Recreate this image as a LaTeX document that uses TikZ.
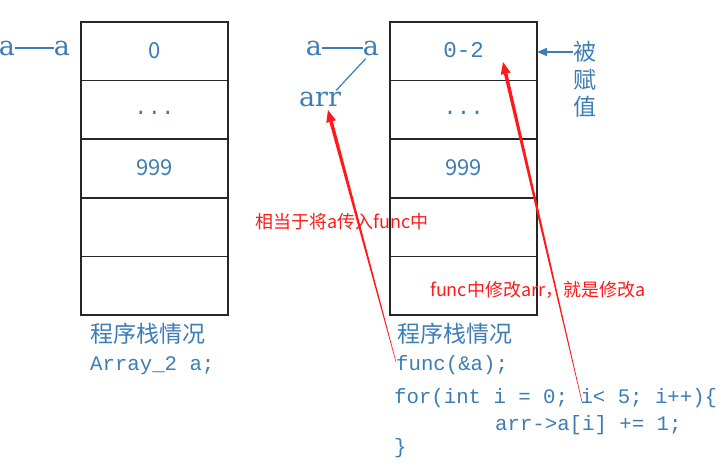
\documentclass[tikz,border=0pt]{standalone}
\usepackage{fontspec}
\usetikzlibrary{calc,arrows.meta}
\newfontfamily\cjk{Noto Sans CJK SC}
\newfontfamily\monof{Liberation Mono}
\newfontfamily\serf{DejaVu Serif}
\definecolor{tblue}{RGB}{59,125,180}
\definecolor{tred}{RGB}{255,25,25}
\begin{document}
\begin{tikzpicture}[x=1pt,y=-1pt,
  cell/.style={draw=black!85, line width=1.5pt, minimum width=147pt, minimum height=58.6pt, inner sep=0pt, outer sep=0pt, text=tblue},
  numtxt/.style={font=\cjk\fontsize{22}{24}\selectfont},
  montxt/.style={font=\monof\fontsize{22.5}{24}\selectfont},
  avar/.style={text=tblue, inner sep=0pt, font=\serf\fontsize{27}{30}\selectfont},
  code/.style={text=tblue, inner sep=0pt, anchor=base west, font=\monof\fontsize{20.7}{24}\selectfont},
  cjkblue/.style={text=tblue, inner sep=0pt, anchor=base west, font=\cjk\fontsize{23}{26}\selectfont},
  vlabel/.style={text=tblue, inner sep=0pt, font=\cjk\fontsize{23}{26}\selectfont},
  redtxt/.style={text=tred, inner sep=0pt, anchor=west, font=\cjk\fontsize{18}{20}\selectfont},
  bluelink/.style={draw=tblue, line width=1.2pt},
  bluearrow/.style={draw=tblue, line width=1.5pt, -{Triangle[length=10pt,width=8pt]}}
]
\useasboundingbox (0,0) rectangle (719,465);

% left stack
\node[cell, numtxt] (L0) at (154.5,51.3) {\raisebox{2pt}{0}};
\node[cell, montxt] (L1) at (154.5,109.9) {\raisebox{-9pt}{...}};
\node[cell, numtxt] (L2) at (154.5,168.5) {\raisebox{1pt}{999}};
\node[cell] (L3) at (154.5,227.1) {};
\node[cell] (L4) at (154.5,285.7) {};

% right stack
\node[cell, montxt] (R0) at (463.5,51.3) {\raisebox{2pt}{0-2}};
\node[cell, montxt] (R1) at (463.5,109.9) {\raisebox{-9pt}{...}};
\node[cell, numtxt] (R2) at (463.5,168.5) {\raisebox{1pt}{999}};
\node[cell] (R3) at (463.5,227.1) {};
\node[cell] (R4) at (463.5,285.7) {};

% a -- a (left)
\node[avar] (la1) at (7,48) {a};
\node[avar] (la2) at (62,48) {a};
\draw[bluelink] (la1.east) -- (la2.west);

% a -- a, arr (right)
\node[avar] (ra1) at (314,48) {a};
\node[avar] (ra2) at (371,48) {a};
\draw[bluelink] (ra1.east) -- (ra2.west);
\node[avar] (arr) at (320,99) {arr};
\draw[bluelink] ([xshift=3pt,yshift=-3pt]ra2.south west) -- ([xshift=-5pt,yshift=1pt]arr.north east);

% 被赋值
\node[vlabel] (bei) at (585,52) {被};
\node[vlabel] (fu) at (585,80) {赋};
\node[vlabel] (zhi) at (585,107) {值};
\draw[bluearrow] (bei.west) -- (bei.west -| R0.east);

% bottom texts left
\node[cjkblue] (lt1) at (90,342) {程序栈情况};
\node[code] (lt2) at (90,370) {Array\_2 a;};

% bottom texts right
\node[cjkblue] (rt1) at (397,342) {程序栈情况};
\node[code] (rt2) at (396,370) {func(\&a);};
\node[code] (rt3) at (394,403) {for(int i = 0; i< 5; i++)\{};
\node[code] (rt4) at (495,430) {arr->a[i] += 1;};
\node[code] (rt5) at (394,453) {\}};

% red labels
\node[redtxt] (m1) at (255,222) {相当于将a传入func中};
\node[redtxt] (m2) at (430,290) {func中修改arr，就是修改a};

% red tapered arrows
\coordinate (s1) at (396,362);
\coordinate (t1) at (328,110);
\coordinate (s2) at (582,402);
\coordinate (t2) at (503,62);
\foreach \s/\t in {s1/t1, s2/t2}{
  \coordinate (h) at ($(\t)!12pt!(\s)$);
  \fill[tred] ($(\s)!0.25pt!90:(\t)$) -- ($(\s)!0.25pt!-90:(\t)$) -- ($(h)!1.8pt!90:(\s)$) -- ($(h)!1.8pt!-90:(\s)$) -- cycle;
  \fill[tred] (\t) -- ($(h)!5pt!90:(\s)$) -- ($(h)!5pt!-90:(\s)$) -- cycle;
}
\end{tikzpicture}
\end{document}
